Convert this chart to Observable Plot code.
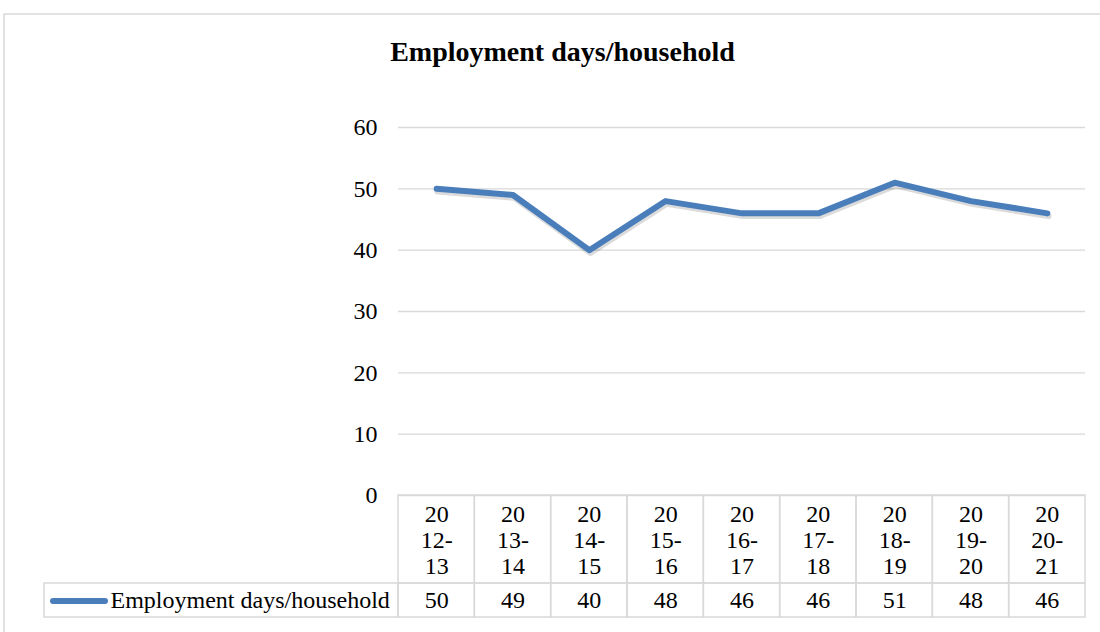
<!DOCTYPE html>
<html>
<head>
<meta charset="utf-8">
<script src="https://cdn.jsdelivr.net/npm/d3@7"></script>
<script src="https://cdn.jsdelivr.net/npm/@observablehq/plot@0.6"></script>
<style>
  html, body { margin: 0; padding: 0; background: #fff; }
  #chart svg { display: block; }
  #chart svg, #chart svg text, #chart svg g { font-family: "Liberation Serif", "Times New Roman", serif !important; }
</style>
</head>
<body>
<div id="chart"></div>
<script>
const title = "Employment days/household";
const seriesName = "Employment days/household";
const categories = ["2012-13", "2013-14", "2014-15", "2015-16", "2016-17", "2017-18", "2018-19", "2019-20", "2020-21"];
const values = [50, 49, 40, 48, 46, 46, 51, 48, 46];
const yTicks = [0, 10, 20, 30, 40, 50, 60];

const data = categories.map((c, i) => ({i, c, v: values[i]}));
const wrap = (s) => s.slice(0, 2) + "\n" + s.slice(2, 5) + "\n" + s.slice(5);

const gridColor = "#d9d9d9";
const blue = "#4a7ebb";

const chart = Plot.plot({
  width: 1100,
  height: 632,
  marginLeft: 398,
  marginRight: 15,
  marginTop: 127,
  marginBottom: 137,
  style: {fontFamily: "Liberation Serif", fontSize: "24px", color: "#000", background: "#fff"},
  x: {type: "linear", domain: [-0.5, categories.length - 0.5], axis: null},
  y: {domain: [0, 60], axis: null},
  marks: [
    // outer chart border
    Plot.frame({stroke: gridColor, strokeWidth: 1.5, insetLeft: -394.5, insetTop: -113.5, insetRight: -40, insetBottom: -300}),
    // gridlines
    Plot.gridY(yTicks, {stroke: gridColor, strokeOpacity: 1, strokeWidth: 1.3}),
    Plot.axisY(yTicks, {tickSize: 0, tickPadding: 21, label: null, fontSize: 24}),
    // data table: header cells
    Plot.rect(data, {x1: d => d.i - 0.5, x2: d => d.i + 0.5, y1: 0, y2: 0, insetBottom: -88, stroke: gridColor, strokeWidth: 1.5, fill: "none"}),
    // data table: value cells
    Plot.rect(data, {x1: d => d.i - 0.5, x2: d => d.i + 0.5, y1: 0, y2: 0, insetTop: 88, insetBottom: -122, stroke: gridColor, strokeWidth: 1.5, fill: "none"}),
    // legend cell
    Plot.rect([seriesName], {x1: -0.5, x2: -0.5, y1: 0, y2: 0, insetLeft: -354, insetTop: 88, insetBottom: -122, stroke: gridColor, strokeWidth: 1.5, fill: "none"}),
    // legend key line
    Plot.rect([seriesName], {x1: -0.5, x2: -0.5, y1: 0, y2: 0, insetLeft: -348, insetRight: 290, insetTop: 103, insetBottom: -109, fill: blue, rx: 3}),
    Plot.text([seriesName], {x: -0.5, y: 0, text: d => d, dx: -288, dy: 104.5, textAnchor: "start", fontSize: 24}),
    // header labels
    Plot.text(data, {x: "i", y: 0, text: d => wrap(d.c), lineAnchor: "middle", lineHeight: 1.1, dy: 44, fontSize: 24}),
    // values
    Plot.text(data, {x: "i", y: 0, text: d => String(d.v), dy: 104.5, fontSize: 24}),
    // line shadow + line
    Plot.line(data, {x: "i", y: "v", stroke: "#000", strokeOpacity: 0.14, strokeWidth: 6.5, dy: 2.5, dx: 1, strokeLinejoin: "round", strokeLinecap: "round"}),
    Plot.line(data, {x: "i", y: "v", stroke: blue, strokeWidth: 6, strokeLinejoin: "round", strokeLinecap: "round"}),
    // title
    Plot.text([title], {frameAnchor: "top-left", text: d => d, textAnchor: "middle", lineAnchor: "middle", dx: 164, dy: -75, fontWeight: "bold", fontSize: 28})
  ]
});
document.getElementById("chart").appendChild(chart);
</script>
</body>
</html>
